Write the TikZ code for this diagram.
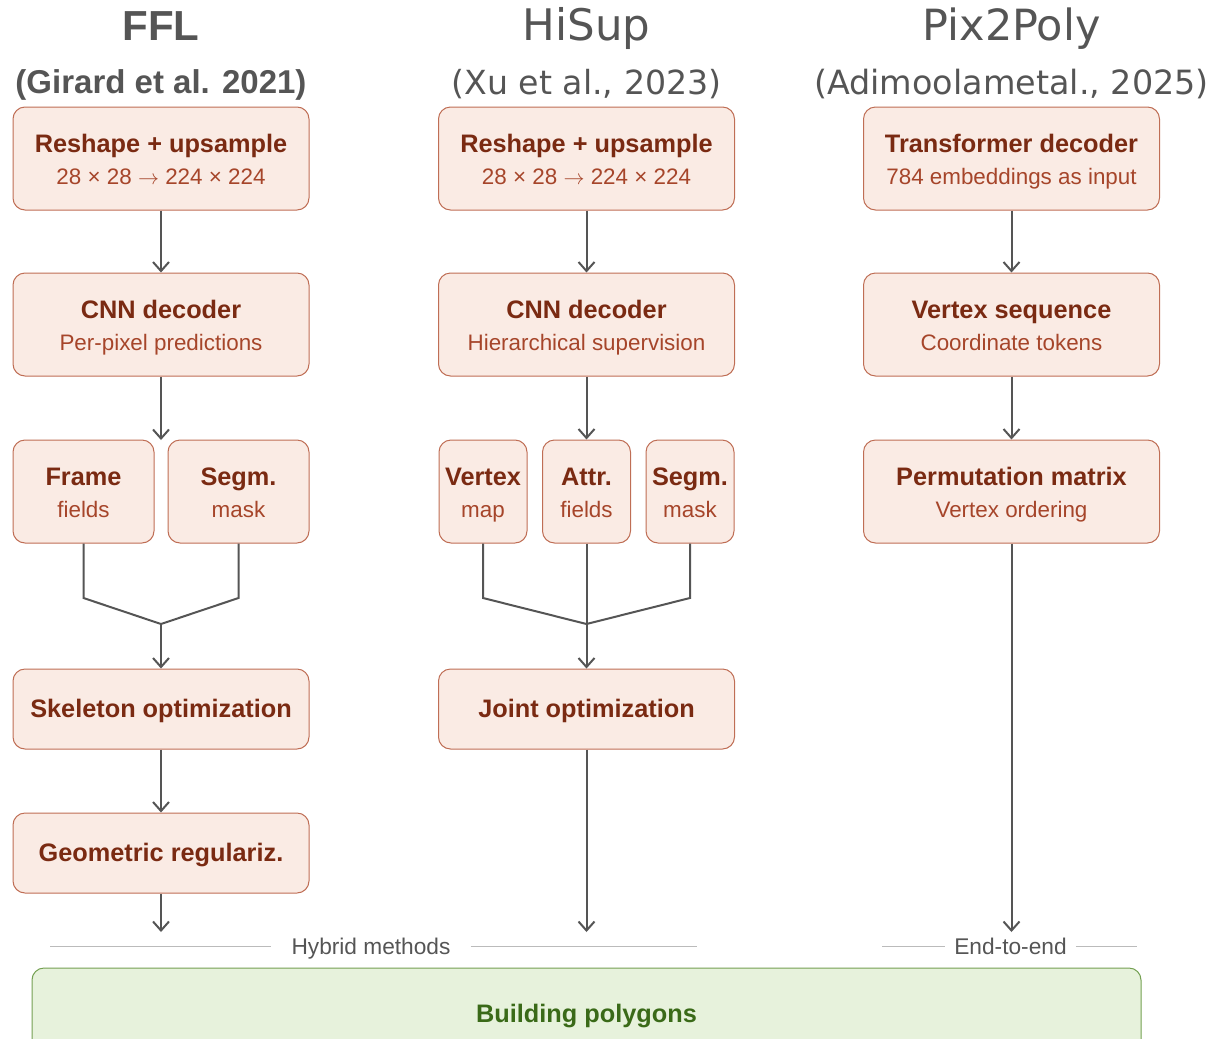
\documentclass[tikz,border=0pt]{standalone}
\usepackage{graphicx}
\usepackage{fontspec}
\setmainfont{Liberation Sans}
\newfontfamily\djv{DejaVu Sans}
\usetikzlibrary{arrows.meta}
\definecolor{boxfill}{HTML}{FAEBE4}
\definecolor{boxline}{HTML}{BF6E55}
\definecolor{headtxt}{HTML}{7A2A12}
\definecolor{subtxt}{HTML}{A6452A}
\definecolor{titlegray}{HTML}{555555}
\definecolor{arrowgray}{HTML}{555555}
\definecolor{rulegray}{HTML}{BBBBBB}
\definecolor{outfill}{HTML}{E7F2DC}
\definecolor{outdraw}{HTML}{74A052}
\definecolor{outtxt}{HTML}{3A6A18}
\newcommand{\twolines}[2]{{\fontsize{25.3}{32}\bfseries\selectfont\color{headtxt}\rule{0pt}{24pt}#1}\\{\color{subtxt}#2\rule[-5pt]{0pt}{5pt}}}
\newcommand{\arr}{\resizebox{21pt}{!}{$\rightarrow$}}

\begin{document}
\begin{tikzpicture}[x=1pt,y=-1pt]
      \tikzstyle{stage}=[draw=boxline,fill=boxfill,line width=1pt,rounded corners=12pt,minimum width=296pt,minimum height=103pt,align=center,inner sep=2pt,font=\fontsize{22.4}{32}\selectfont]
      \tikzstyle{part}=[stage,minimum width=141pt]
      \tikzstyle{slim}=[stage,minimum width=88pt]
      \tikzstyle{flat}=[stage,minimum height=80pt,text height=22pt,text depth=4.5pt,font=\fontsize{25.3}{32}\selectfont\bfseries,text=headtxt]
      \tikzstyle{result}=[draw=outdraw,fill=outfill,line width=1pt,rounded corners=12pt,minimum width=1109pt,minimum height=92pt,text height=22pt,text depth=4.5pt,font=\fontsize{25.3}{32}\selectfont\bfseries,text=outtxt]
      \tikzstyle{edge}=[draw=arrowgray,line width=2pt,-{Straight Barb[length=9pt,width=16pt]}]
      \tikzstyle{merge}=[draw=arrowgray,line width=2pt]
      \tikzstyle{title}=[text=titlegray,anchor=base,inner sep=0pt]
      \tikzstyle{tag}=[text=titlegray,font=\fontsize{22.7}{27}\selectfont,inner ysep=0pt,text height=16.3pt,text depth=0pt]
      \tikzstyle{sep}=[draw=rulegray,line width=1pt]
      \useasboundingbox (0,0) rectangle (1211,1039);
      \node[title,font=\fontsize{42}{50}\selectfont\bfseries] (ffl) at (161,40) {FFL};
      \node[title,font=\fontsize{33}{40}\selectfont\bfseries] (girard) at (161,93) {(Girard et al. 2021)};
      \node[title,font=\djv\fontsize{43.5}{50}\selectfont] (hisup) at (586.5,40) {HiSup};
      \node[title,font=\djv\fontsize{33.2}{40}\selectfont] (xu) at (586.5,94) {(Xu et al., 2023)};
      \node[title,font=\djv\fontsize{43}{50}\selectfont] (pix) at (1011.5,40) {Pix2Poly};
      \node[title,font=\djv\fontsize{33.4}{40}\selectfont] (adi) at (1011.5,94) {(Adimoolametal., 2025)};
      \node[stage] (res1) at (161,158.5) {\twolines{Reshape + upsample}{28 × 28 \arr{} 224 × 224}};
      \node[stage] (cnn1) at (161,324.5) {\twolines{CNN decoder}{Per-pixel predictions}};
      \node[part] (frame) at (83.5,491.5) {\twolines{Frame}{fields}};
      \node[part] (segm1) at (238.5,491.5) {\twolines{Segm.}{mask}};
      \node[flat] (skel) at (161,709) {Skeleton optimization};
      \node[flat] (geo) at (161,853) {Geometric regulariz.};
      \node[stage] (res2) at (586.5,158.5) {\twolines{Reshape + upsample}{28 × 28 \arr{} 224 × 224}};
      \node[stage] (cnn2) at (586.5,324.5) {\twolines{CNN decoder}{Hierarchical supervision}};
      \node[slim] (vert) at (483,491.5) {\twolines{Vertex}{map}};
      \node[slim] (attr) at (586.5,491.5) {\twolines{Attr.}{fields}};
      \node[slim] (segm2) at (690,491.5) {\twolines{Segm.}{mask}};
      \node[flat] (joint) at (586.5,709) {Joint optimization};
      \node[stage] (trans) at (1011.5,158.5) {\twolines{Transformer decoder}{784 embeddings as input}};
      \node[stage] (vseq) at (1011.5,324.5) {\twolines{Vertex sequence}{Coordinate tokens}};
      \node[stage] (perm) at (1011.5,491.5) {\twolines{Permutation matrix}{Vertex ordering}};
      \node[tag,inner xsep=20pt] (hyb) at (371,946) {Hybrid methods};
      \node[tag,inner xsep=9pt] (e2e) at (1010.5,946) {End-to-end};
      \node[result] (poly) at (586.5,1014) {Building polygons};
      \coordinate (j1) at (161,440);
      \coordinate (k1) at (161,598);
      \coordinate (m1) at (161,624);
      \coordinate (k2) at (586.5,598);
      \coordinate (m2) at (586.5,624);
      \coordinate (e1) at (161,932);
      \coordinate (e2) at (586.5,932);
      \coordinate (e3) at (1011.5,932);
      \coordinate (h1) at (50,946);
      \coordinate (h2) at (697,946);
      \coordinate (h3) at (882,946);
      \coordinate (h4) at (1137,946);
      \path[edge] (res1) -- (cnn1);
      \path[edge] (cnn1) -- (j1);
      \path[merge] (frame.south) -- (frame.south |- k1) -- (m1);
      \path[merge] (segm1.south) -- (segm1.south |- k1) -- (m1);
      \path[edge] (m1) -- (skel);
      \path[edge] (skel) -- (geo);
      \path[edge] (geo) -- (e1);
      \path[edge] (res2) -- (cnn2);
      \path[edge] (cnn2) -- (attr);
      \path[merge] (vert.south) -- (vert.south |- k2) -- (m2);
      \path[merge] (segm2.south) -- (segm2.south |- k2) -- (m2);
      \path[edge] (attr) -- (joint);
      \path[edge] (joint) -- (e2);
      \path[edge] (trans) -- (vseq);
      \path[edge] (vseq) -- (perm);
      \path[edge] (perm) -- (e3);
      \path[sep] (h1) -- (hyb);
      \path[sep] (hyb) -- (h2);
      \path[sep] (h3) -- (e2e);
      \path[sep] (e2e) -- (h4);
    \end{tikzpicture}
\end{document}
